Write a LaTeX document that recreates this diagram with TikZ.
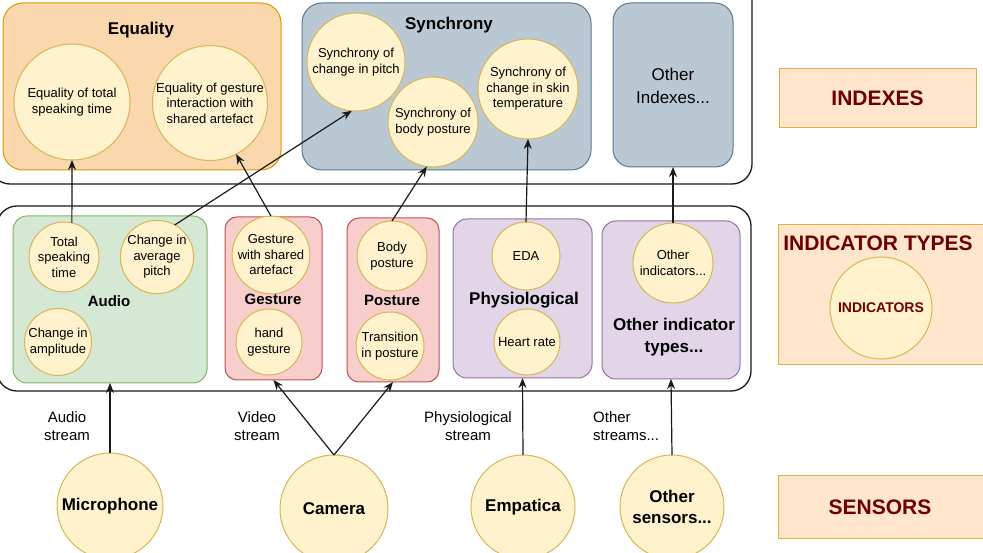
\documentclass[tikz,border=0pt]{standalone}
\usepackage{fontspec}
\setmainfont{Liberation Sans}
\usetikzlibrary{arrows.meta}
\definecolor{circfill}{HTML}{FFF2CC}
\definecolor{circdraw}{HTML}{D6B656}
\definecolor{orfill}{HTML}{FAD7AC}
\definecolor{ordraw}{HTML}{D79B00}
\definecolor{blfill}{HTML}{BAC8D3}
\definecolor{bldraw}{HTML}{5A7890}
\definecolor{grfill}{HTML}{D5E8D4}
\definecolor{grdraw}{HTML}{82B366}
\definecolor{rdfill}{HTML}{F8CECC}
\definecolor{rddraw}{HTML}{B85450}
\definecolor{pufill}{HTML}{E1D5E7}
\definecolor{pudraw}{HTML}{9673A6}
\definecolor{lblfill}{HTML}{FFE6CC}
\definecolor{lbldraw}{HTML}{E0B040}
\definecolor{lbltext}{HTML}{6F0000}
\definecolor{linec}{HTML}{1A1A1A}
\tikzset{
  container/.style={draw=linec, line width=1.3pt, rounded corners=20pt, inner sep=0pt, outer sep=0pt},
  area/.style={line width=1pt, rounded corners=14pt, inner sep=0pt, outer sep=0pt},
  ind/.style={circle, draw=circdraw, fill=circfill, line width=1pt, inner sep=0pt, outer sep=0pt, align=center, font=\fontsize{13}{15.5}\selectfont},
  sensor/.style={ind, font=\fontsize{17}{21}\selectfont\bfseries},
  btitle/.style={font=\fontsize{15}{18}\selectfont\bfseries, inner sep=0pt, align=center},
  bigtitle/.style={font=\fontsize{17}{21}\selectfont\bfseries, inner sep=0pt, align=center},
  lblbox/.style={draw=lbldraw, fill=lblfill, line width=1pt, inner sep=0pt, outer sep=0pt, text=lbltext, font=\fontsize{21}{25}\selectfont\bfseries},
  stream/.style={font=\fontsize{15}{18}\selectfont, inner sep=0pt, align=center},
  arr/.style={draw=linec, line width=1.2pt, -{Stealth[length=10pt,width=8pt]}}
}
\begin{document}
\begin{tikzpicture}[x=1pt,y=-1pt]
\useasboundingbox (0,0) rectangle (983,553);
\begin{scope}
\clip (0,0) rectangle (983,553);
% containers
\node[container, minimum width=762pt, minimum height=209pt] (topc) at (371,79.5) {};
\node[container, minimum width=754pt, minimum height=185pt] (midc) at (374,298.5) {};

% index areas
\node[area, draw=ordraw, fill=orfill, minimum width=278pt, minimum height=167pt, rounded corners=20pt] (eqbox) at (142,86.5) {};
\node[bigtitle] (eqt) at (141,30) {Equality};
\node[area, draw=bldraw, fill=blfill, minimum width=289pt, minimum height=167pt, rounded corners=20pt] (synbox) at (446.5,86.5) {};
\node[bigtitle] (synt) at (449,25) {Synchrony};
\node[area, draw=bldraw, fill=blfill, minimum width=120pt, minimum height=164pt, rounded corners=18pt] (oibox) at (673,85) {};
\node[font=\fontsize{17}{23}\selectfont, align=center, inner sep=0pt] (oit) at (673,86) {Other\\Indexes...};

\node[ind, minimum size=116pt] (eq1) at (72,102) {Equality of total\\speaking time};
\node[ind, minimum size=115pt] (eq2) at (210,103) {Equality of gesture\\interaction with\\shared artefact};
\node[ind, minimum size=98pt] (sp) at (356,62) {Synchrony of\\change in pitch};
\node[ind, minimum size=90pt] (sbp) at (433,122) {Synchrony of\\body posture};
\node[ind, minimum size=100pt] (sst) at (528,89) {Synchrony of\\change in skin\\temperature};

% indicator type areas
\node[area, draw=grdraw, fill=grfill, minimum width=194pt, minimum height=167pt] (audio) at (110,299.5) {};
\node[btitle] (audiot) at (109,301) {Audio};
\node[area, draw=rddraw, fill=rdfill, minimum width=97pt, minimum height=163pt, rounded corners=12pt] (gesture) at (273.5,298.5) {};
\node[btitle] (gesturet) at (273,299.5) {Gesture};
\node[area, draw=rddraw, fill=rdfill, minimum width=92pt, minimum height=164pt, rounded corners=12pt] (posture) at (393,300) {};
\node[btitle] (posturet) at (392,300.5) {Posture};
\node[area, draw=pudraw, fill=pufill, minimum width=139pt, minimum height=159pt] (physio) at (522.5,298.5) {};
\node[bigtitle] (physiot) at (524,300) {Physiological};
\node[area, draw=pudraw, fill=pufill, minimum width=138pt, minimum height=158pt] (othtypes) at (671,300) {};
\node[font=\fontsize{17}{21.5}\selectfont\bfseries, align=center, inner sep=0pt] (othtypest) at (674,337) {Other indicator\\types...};

\node[ind, minimum size=70pt] (tst) at (64,257) {Total\\speaking\\time};
\node[ind, minimum size=72pt] (cap) at (157,257) {Change in\\average\\pitch};
\node[ind, minimum size=67pt] (camp) at (58,342) {Change in\\amplitude};
\node[ind, minimum size=70pt] (gsa) at (271,255) {Gesture\\with shared\\artefact};
\node[ind, minimum size=66pt] (hand) at (269,342) {hand\\gesture};
\node[ind, minimum size=70pt] (bp) at (392,256) {Body\\posture};
\node[ind, minimum size=68pt] (tip) at (390,346) {Transition\\in posture};
\node[ind, minimum size=68pt] (eda) at (526,256) {EDA};
\node[ind, minimum size=66pt] (hr) at (527,342) {Heart rate};
\node[ind, minimum size=80pt] (oind) at (673,263) {Other\\indicators...};

% sensors
\node[sensor, minimum size=106pt] (mic) at (110,506) {Microphone};
\node[sensor, minimum size=108pt] (cam) at (334,509) {Camera};
\node[sensor, minimum size=104pt] (emp) at (523,507) {Empatica};
\node[sensor, minimum size=104pt] (osens) at (672,507) {Other\\sensors...};

% stream labels
\node[stream] (as) at (67,426) {Audio\\stream};
\node[stream] (vs) at (257,426) {Video\\stream};
\node[stream] (ps) at (468,426) {Physiological\\stream};
\node[stream, anchor=west, align=left] (os) at (593,426) {Other\\streams...};

% legend boxes
\node[lblbox, minimum width=197pt, minimum height=59pt] (lind) at (877.5,98.5) {INDEXES};
\node[lblbox, minimum width=210pt, minimum height=140pt] (ltyp) at (883,295) {};
\node[text=lbltext, font=\fontsize{21}{25}\selectfont\bfseries, inner sep=0pt] (ltypt) at (878,243) {INDICATOR TYPES};
\node[ind, minimum size=102pt, text=lbltext, font=\fontsize{14}{17}\selectfont\bfseries] (lindc) at (881,308) {INDICATORS};
\node[lblbox, minimum width=210pt, minimum height=63pt] (lsen) at (883,506.5) {};
\node[text=lbltext, font=\fontsize{21}{25}\selectfont\bfseries, inner sep=0pt] (lsent) at (880,507) {SENSORS};

% arrows: sensors -> indicator types
\draw[arr] (mic.north) -- (audio.south);
\draw[arr] (cam.north) -- (gesture.south);
\draw[arr] (cam.north) -- (posture.south);
\draw[arr] (emp.north) -- (physio.south);
\draw[arr] (osens.north) -- (othtypes.south);
% arrows: indicators -> indexes
\draw[arr] (tst.77) -- (eq1.south);
\draw[arr] (cap.61) -- (sp.265);
\draw[arr] (gsa.north) -- (eq2.297);
\draw[arr] (bp.north) -- (sbp.262);
\draw[arr] (eda.north) -- (sst.south);
\draw[arr] (oind.north) -- (oibox.south);
\end{scope}
\end{tikzpicture}
\end{document}
